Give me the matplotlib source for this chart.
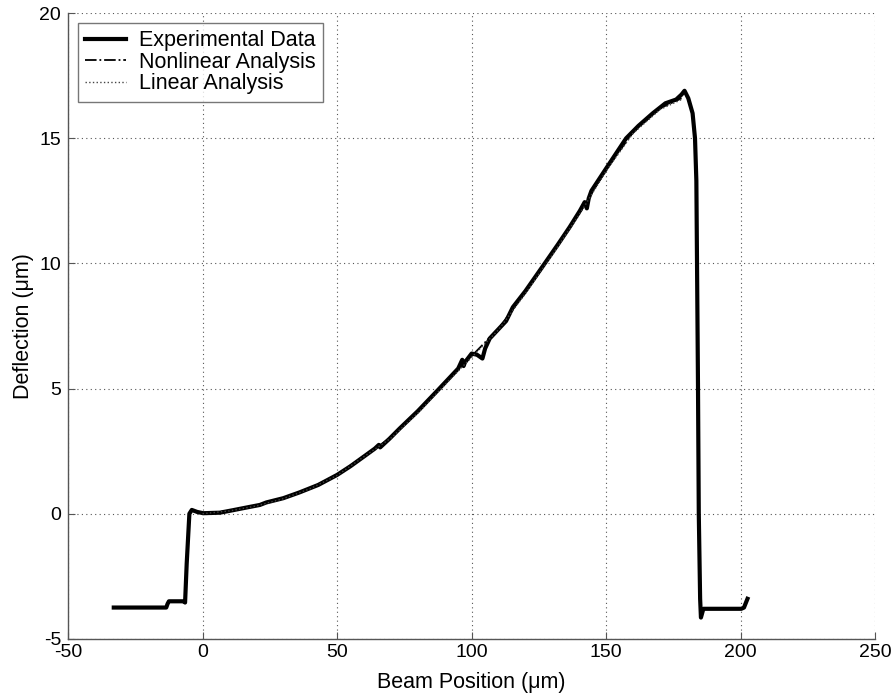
import numpy as np
import matplotlib
matplotlib.use("Agg")
import matplotlib.pyplot as plt

plt.rcParams['font.family'] = ['Liberation Sans', 'DejaVu Sans']
plt.rcParams['axes.unicode_minus'] = False

exp_x = [-33, -13.5, -13.0, -12.5, -7.0, -6.5, -5.9, -4.9, -4.0, -2, 0.25, 6.4,
         11.3, 16, 21.3, 23.7, 30, 36, 43, 50, 55, 60.8, 64, 65.5, 66, 69.5,
         73.2, 80, 88, 95, 96.5, 97, 97.5, 100, 102, 104, 105, 106.7, 112.8,
         115.3, 120, 127.8, 132, 136.4, 140.2, 142, 142.8, 143.5, 144.5, 150,
         157.4, 162, 167.3, 172, 176, 178, 179.1, 180.5, 182.1, 183, 183.5,
         184.1, 184.4, 184.9, 185.2, 186.1, 195, 200.2, 201.2, 202.5]
exp_y = [-3.75, -3.75, -3.6, -3.5, -3.5, -3.55, -2.0, 0.0, 0.15, 0.07, 0.02, 0.04,
         0.14, 0.24, 0.35, 0.45, 0.62, 0.85, 1.15, 1.55, 1.9, 2.35, 2.6, 2.75, 2.65, 3.0,
         3.4, 4.1, 5.0, 5.8, 6.15, 5.9, 6.05, 6.4, 6.35, 6.2, 6.6, 7.0, 7.7,
         8.25, 8.9, 10.1, 10.75, 11.45, 12.1, 12.45, 12.2, 12.6, 12.9, 13.8,
         15.0, 15.5, 16.0, 16.4, 16.55, 16.75, 16.9, 16.6, 16.0, 15.0, 13.3,
         5.2, 0.0, -3.4, -4.15, -3.8, -3.8, -3.8, -3.75, -3.4]

# Analysis curves
ana_x = [0, 10, 20, 30, 40, 50, 60, 70, 80, 90, 100, 110, 120, 130, 140, 150, 160, 170, 178]
nonlin_y = [0, 0.12, 0.32, 0.62, 1.02, 1.55, 2.3, 3.05, 4.05, 5.2, 6.3, 7.4, 8.85,
            10.4, 12.0, 13.75, 15.25, 16.2, 16.6]
lin_y = [0, 0.11, 0.31, 0.6, 1.0, 1.53, 2.28, 3.02, 4.02, 5.15, 6.25, 7.35, 8.8,
         10.35, 11.95, 13.7, 15.2, 16.15, 16.55]

fig = plt.figure(figsize=(8.95, 6.94), dpi=100)
ax = fig.add_axes([0.076, 0.0795, 0.902, 0.9015])

ax.plot(exp_x, exp_y, '-', color='black', lw=3.0, label='Experimental Data')
ax.plot(ana_x, nonlin_y, '-.', color='black', lw=1.3, label='Nonlinear Analysis')
ax.plot(ana_x, lin_y, ':', color='#444444', lw=1.0, label='Linear Analysis')

ax.set_xlim(-50, 250)
ax.set_ylim(-5, 20)
ax.set_xticks(np.arange(-50, 251, 50))
ax.set_yticks(np.arange(-5, 21, 5))
ax.grid(True, linestyle=(0, (1, 3)), color='#555555', lw=0.8)
ax.tick_params(direction='in', length=5, labelsize=14, color='#555555')
ax.tick_params(axis='x', pad=4)
ax.tick_params(axis='y', pad=5)
for s in ['top', 'right']:
    ax.spines[s].set_visible(False)
for s in ['left', 'bottom']:
    ax.spines[s].set_color('#555555')
    ax.spines[s].set_linewidth(1.0)

ax.set_xlabel('Beam Position (μm)', fontsize=15.5, labelpad=8)
ax.set_ylabel('Deflection (μm)', fontsize=15.5, labelpad=4)

leg = ax.legend(loc='upper left', fontsize=15.5, frameon=True, fancybox=False,
                edgecolor='#555555', borderpad=0.35, labelspacing=0.02,
                handlelength=1.9, handletextpad=0.6, borderaxespad=0.45)
leg.get_frame().set_linewidth(1.0)

fig.savefig('out.png', dpi=100)
